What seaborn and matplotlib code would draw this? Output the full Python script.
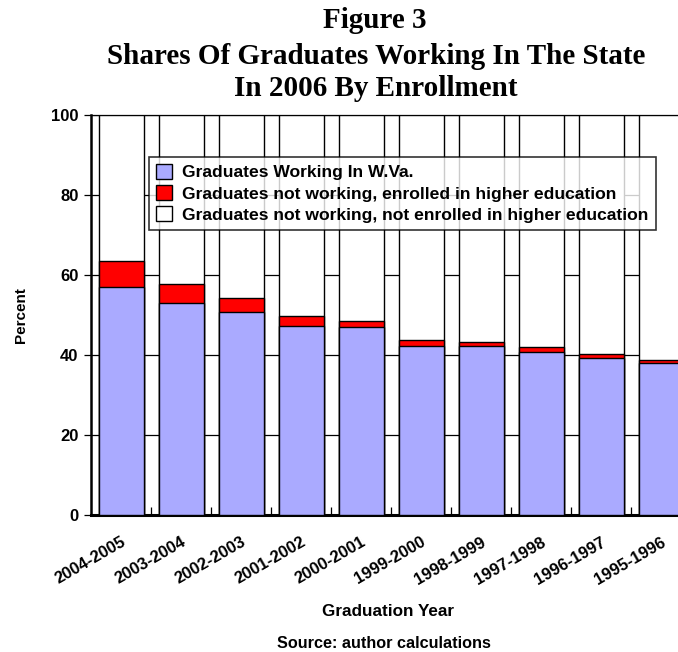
import matplotlib
matplotlib.use("Agg")
import matplotlib.pyplot as plt
import seaborn as sns
import numpy as np
import pandas as pd
from matplotlib.patches import Patch

years = ["2004-2005", "2003-2004", "2002-2003", "2001-2002", "2000-2001",
         "1999-2000", "1998-1999", "1997-1998", "1996-1997", "1995-1996"]
working = [57.0, 53.0, 50.75, 47.25, 46.9, 42.3, 42.25, 40.7, 39.3, 37.9]
enrolled = [6.5, 4.75, 3.5, 2.5, 1.7, 1.45, 1.05, 1.2, 0.95, 0.85]
not_enrolled = [100 - w - e for w, e in zip(working, enrolled)]

labels = ["Graduates Working In W.Va.",
          "Graduates not working, enrolled in higher education",
          "Graduates not working, not enrolled in higher education"]
colors = ["#AAAAFF", "#FF0000", "#FFFFFF"]

sns.set_theme(style="white")
plt.rcParams['font.family'] = ['Liberation Sans', 'DejaVu Sans']
for k in ["text.color", "axes.labelcolor", "xtick.color", "ytick.color"]:
    plt.rcParams[k] = "black"

df = pd.DataFrame({"year": years, "working": working, "enrolled": enrolled,
                   "not_enrolled": not_enrolled})
df["top2"] = df["working"] + df["enrolled"]
df["top3"] = df["top2"] + df["not_enrolled"]

fig = plt.figure(figsize=(6.78, 6.52), dpi=100)
ax = fig.add_axes([91/678, 1 - 515/652, 600/678, 400/652])

for col, c in [("top3", colors[2]), ("top2", colors[1]), ("working", colors[0])]:
    sns.barplot(data=df, x="year", y=col, order=years, color=c, saturation=1,
                width=0.75, edgecolor="black", linewidth=1.0, ax=ax, zorder=3)

ax.set_ylim(0, 100)
ax.set_xlim(-0.5, 9.5)
ax.set_yticks([0, 20, 40, 60, 80, 100])
ax.set_yticklabels(["0", "20", "40", "60", "80", "100"], fontweight="bold", fontsize=12)
ax.yaxis.grid(True, color="black", linewidth=0.9, zorder=0)
ax.set_axisbelow(True)
ax.tick_params(axis="y", left=True, length=5, width=0.9, direction="out", pad=4)
ax.set_xticks(range(len(years)))
ax.set_xticklabels(years, rotation=30, ha="right", rotation_mode="anchor",
                   fontweight="bold", fontsize=12)
ax.tick_params(axis="x", bottom=False, pad=8)
ax.set_xticks(np.arange(0.5, 9.5, 1.0), minor=True)
ax.tick_params(axis="x", which="minor", bottom=True, direction="in", length=6,
               width=0.9, color="black")

for s in ["left", "bottom", "top"]:
    ax.spines[s].set_visible(True)
    ax.spines[s].set_color("black")
ax.spines["left"].set_linewidth(1.8)
ax.spines["bottom"].set_linewidth(2.2)
ax.spines["top"].set_linewidth(0.9)
ax.spines["right"].set_visible(False)

ax.set_xlabel("")
ax.set_ylabel("Percent", fontweight="bold", fontsize=11)
ax.yaxis.set_label_coords(-0.105, 0.5)

handles = [Patch(facecolor=c, edgecolor="black", linewidth=1) for c in colors]
leg = ax.legend(handles, labels, loc="upper left", bbox_to_anchor=(58/600, 1 - 42/400),
                frameon=True, fancybox=False, edgecolor="black",
                prop={"weight": "bold", "size": 12.6}, handlelength=0.9,
                handleheight=0.9, handletextpad=0.6, labelspacing=0.28,
                borderpad=0.4, borderaxespad=0)
leg.get_frame().set_linewidth(1.2)
leg.set_zorder(5)

tfont = ['Liberation Serif', 'DejaVu Serif']
fig.text(375/678, 1 - 21/652, "Figure 3", ha="center", va="center",
         fontsize=21, fontweight="bold", family=tfont)
fig.text(376/678, 1 - 56/652, "Shares Of Graduates Working In The State", ha="center",
         va="center", fontsize=21, fontweight="bold", family=tfont)
fig.text(376/678, 1 - 88/652, "In 2006 By Enrollment", ha="center", va="center",
         fontsize=21, fontweight="bold", family=tfont)
fig.text(388/678, 1 - 612/652, "Graduation Year", ha="center", va="center",
         fontsize=12.3, fontweight="bold")
fig.text(384/678, 1 - 643/652, "Source: author calculations", ha="center", va="center",
         fontsize=11.7, fontweight="bold")

fig.savefig("out.png", dpi=100)
